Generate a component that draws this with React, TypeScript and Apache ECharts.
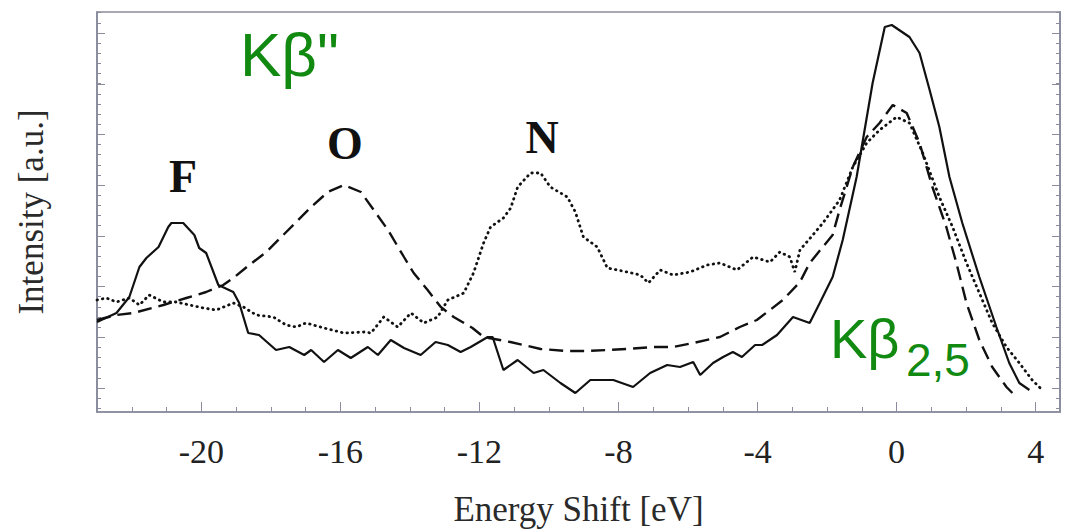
import React, { useEffect, useRef } from "react";
import * as echarts from "echarts";

// Energy shift [eV] vs intensity [a.u.] pairs
const fluorideCurve: number[][] = [
  [-23.0, 90], [-22.44, 99], [-22.07, 115], [-21.78, 145], [-21.58, 154], [-21.23, 165],
  [-20.95, 185], [-20.86, 189], [-20.52, 189], [-20.2, 177], [-20.06, 164], [-19.86, 159],
  [-19.51, 127], [-19.08, 120], [-18.91, 109], [-18.65, 79], [-18.34, 77], [-17.85, 62],
  [-17.47, 65], [-17.04, 57], [-16.84, 62], [-16.47, 50], [-16.07, 62], [-15.7, 54],
  [-15.21, 65], [-14.92, 57], [-14.55, 72], [-14.17, 64], [-13.69, 57], [-13.26, 70],
  [-12.91, 67], [-12.54, 60], [-12.25, 65], [-11.76, 75], [-11.62, 75], [-11.31, 42],
  [-10.9, 52], [-10.44, 39], [-10.16, 42], [-9.67, 29], [-9.24, 19], [-8.81, 32],
  [-8.15, 32], [-7.58, 25], [-7.09, 39], [-6.6, 47], [-6.23, 45], [-5.85, 50],
  [-5.65, 37], [-5.28, 49], [-4.99, 55], [-4.71, 60], [-4.45, 55], [-4.07, 67],
  [-3.87, 67], [-3.44, 77], [-2.98, 95], [-2.5, 89], [-2.21, 109], [-1.84, 135],
  [-1.55, 172], [-1.15, 235], [-0.69, 329], [-0.34, 385], [-0.14, 387], [0.37, 375],
  [0.66, 359], [0.95, 322], [1.23, 285], [1.52, 235], [1.89, 189], [2.38, 135],
  [2.87, 85], [3.24, 49], [3.53, 29], [3.82, 22],
];

const oxideCurve: number[][] = [
  [-23.0, 92], [-22.44, 97], [-21.95, 99], [-21.09, 107], [-20.43, 114], [-19.86, 120],
  [-19.37, 127], [-19.08, 134], [-18.62, 147], [-18.13, 160], [-17.27, 190], [-16.84, 205],
  [-16.36, 220], [-15.9, 227], [-15.41, 220], [-15.04, 202], [-14.63, 182], [-14.17, 155],
  [-13.89, 139], [-13.49, 122], [-13.11, 105], [-12.74, 95], [-12.2, 84], [-11.88, 75],
  [-11.11, 70], [-10.24, 63], [-9.47, 61], [-8.9, 61], [-8.32, 62], [-7.75, 63],
  [-7.0, 65], [-6.43, 65], [-5.85, 69], [-5.08, 75], [-4.51, 85], [-4.02, 92],
  [-3.27, 112], [-2.78, 130], [-2.5, 149], [-1.84, 177], [-1.64, 202], [-1.26, 245],
  [-0.86, 275], [-0.49, 289], [-0.11, 307], [0.29, 299], [0.66, 269], [1.03, 225],
  [1.43, 185], [1.72, 149], [2.01, 109], [2.38, 72], [2.75, 45], [3.16, 25], [3.33, 19],
];

const nitrideCurve: number[][] = [
  [-23.0, 112], [-22.73, 114], [-22.44, 110], [-22.07, 114], [-21.78, 107], [-21.5, 117],
  [-21.09, 110], [-20.72, 110], [-20.34, 107], [-19.94, 104], [-19.57, 102], [-19.08, 109],
  [-18.79, 105], [-18.42, 97], [-17.93, 95], [-17.56, 87], [-17.27, 85], [-16.99, 89],
  [-16.47, 84], [-15.9, 79], [-15.32, 80], [-15.12, 79], [-14.75, 95], [-14.35, 85],
  [-13.97, 99], [-13.6, 89], [-13.2, 95], [-12.91, 112], [-12.45, 119], [-12.17, 139],
  [-11.88, 169], [-11.68, 185], [-11.31, 194], [-11.1, 204], [-10.9, 225], [-10.53, 239],
  [-10.24, 239], [-9.96, 225], [-9.47, 215], [-9.24, 200], [-9.01, 175], [-8.61, 165],
  [-8.32, 144], [-7.75, 140], [-7.37, 137], [-7.14, 129], [-6.8, 142], [-6.43, 137],
  [-5.94, 140], [-5.45, 147], [-5.08, 149], [-4.59, 142], [-4.13, 155], [-3.64, 150],
  [-3.36, 160], [-3.07, 155], [-2.93, 140], [-2.78, 162], [-2.41, 177], [-2.12, 189],
  [-1.64, 212], [-1.26, 245], [-0.86, 269], [-0.49, 282], [0.0, 295], [0.37, 289],
  [0.75, 259], [1.23, 215], [1.61, 185], [2.01, 149], [2.38, 119], [2.75, 89],
  [3.16, 65], [3.53, 49], [3.9, 32], [4.19, 22],
];

const xTickLabels = [-20, -16, -12, -8, -4, 0, 4];
const xMinorTicks = [-23, -22, -21, -20, -19, -18, -17, -16, -15, -14, -13, -12, -11, -10, -9, -8, -7, -6, -5, -4, -3, -2, -1, 0, 1, 2, 3, 4];
const yMajorTicks = [24, 74.7, 125.4, 176, 226.8, 277.5, 328, 379];

const X_MIN = -23;
const X_MAX = 4.7;
const Y_MIN = 0;
const Y_MAX = 400;

export default function App() {
  const ref = useRef<HTMLDivElement>(null);

  useEffect(() => {
    if (!ref.current) return;
    const chart = echarts.init(ref.current, undefined, { renderer: "svg" });

    const yMinorTicks: number[] = [];
    const step = (yMajorTicks[yMajorTicks.length - 1] - yMajorTicks[0]) / (yMajorTicks.length - 1) / 5;
    for (let v = yMajorTicks[0] - step * 2; v < Y_MAX; v += step) {
      if (v > Y_MIN) yMinorTicks.push(v);
    }

    const frameColor = "#8a8c9c";
    const serif = "'Liberation Serif', 'Times New Roman', serif";
    const sans = "'Liberation Sans', Arial, sans-serif";
    const green = "#128a12";

    const yAxisBase = (position: "left" | "right", ticks: number[], len: number, withName: boolean) => ({
      type: "value",
      position,
      min: Y_MIN,
      max: Y_MAX,
      axisLine: { show: true, onZero: false, lineStyle: { color: frameColor, width: 1.5 } },
      axisTick: { show: true, inside: true, length: len, customValues: ticks, lineStyle: { color: frameColor, width: 1 } },
      axisLabel: { show: false },
      splitLine: { show: false },
      name: withName ? "Intensity [a.u.]" : "",
      nameLocation: "middle",
      nameGap: 48,
      nameTextStyle: { fontFamily: serif, fontSize: 35, color: "#2a2a2a" },
    });

    chart.setOption({
      animation: false,
      backgroundColor: "#ffffff",
      grid: {
        left: 97,
        right: 7,
        top: 12,
        bottom: 120,
        show: true,
        borderColor: frameColor,
        borderWidth: 1.5,
        containLabel: false,
      },
      xAxis: [
        {
          type: "value",
          min: X_MIN,
          max: X_MAX,
          position: "bottom",
          axisLine: { show: true, onZero: false, lineStyle: { color: frameColor, width: 1.5 } },
          axisTick: { show: true, inside: true, length: 5, customValues: xMinorTicks, lineStyle: { color: frameColor } },
          axisLabel: {
            show: true,
            customValues: xTickLabels,
            margin: 22,
            fontFamily: serif,
            fontSize: 34,
            color: "#222222",
          },
          splitLine: { show: false },
          name: "Energy Shift [eV]",
          nameLocation: "middle",
          nameGap: 80,
          nameTextStyle: { fontFamily: serif, fontSize: 35, color: "#2a2a2a" },
        },
        {
          type: "value",
          min: X_MIN,
          max: X_MAX,
          position: "bottom",
          axisLine: { show: false, onZero: false },
          axisTick: { show: true, inside: true, length: 10, customValues: xTickLabels, lineStyle: { color: frameColor } },
          axisLabel: { show: false },
          splitLine: { show: false },
        },
      ],
      yAxis: [
        yAxisBase("left", yMajorTicks, 8, true),
        yAxisBase("left", yMinorTicks, 4, false),
        yAxisBase("right", yMajorTicks, 8, false),
        yAxisBase("right", yMinorTicks, 4, false),
      ],
      series: [
        {
          name: "F",
          type: "line",
          data: fluorideCurve,
          showSymbol: false,
          smooth: false,
          lineStyle: { color: "#111111", width: 2.2, type: "solid" },
          z: 3,
        },
        {
          name: "O",
          type: "line",
          data: oxideCurve,
          showSymbol: false,
          smooth: false,
          lineStyle: { color: "#111111", width: 2.4, type: [14, 7] },
          z: 3,
        },
        {
          name: "N",
          type: "line",
          data: nitrideCurve,
          showSymbol: false,
          smooth: false,
          lineStyle: { color: "#111111", width: 2.8, type: [0.5, 5], cap: "round" },
          z: 3,
        },
      ],
      graphic: [
        {
          type: "text",
          x: 240,
          y: 23,
          style: { text: "Kβ\"", font: `62px ${sans}`, fill: green, align: "left", verticalAlign: "top" },
        },
        {
          type: "text",
          x: 830,
          y: 310,
          style: { text: "Kβ", font: `56px ${sans}`, fill: green, align: "left", verticalAlign: "top" },
        },
        {
          type: "text",
          x: 906,
          y: 337,
          style: { text: "2,5", font: `46px ${sans}`, fill: green, align: "left", verticalAlign: "top" },
        },
        {
          type: "text",
          x: 183,
          y: 153,
          style: { text: "F", font: `bold 46px ${serif}`, fill: "#111111", align: "center", verticalAlign: "top" },
        },
        {
          type: "text",
          x: 345,
          y: 120,
          style: { text: "O", font: `bold 46px ${serif}`, fill: "#111111", align: "center", verticalAlign: "top" },
        },
        {
          type: "text",
          x: 542,
          y: 114,
          style: { text: "N", font: `bold 46px ${serif}`, fill: "#111111", align: "center", verticalAlign: "top" },
        },
      ],
    });

    return () => chart.dispose();
  }, []);

  return (
    <div
      ref={ref}
      style={{ position: "absolute", left: 0, top: 0, width: 1067, height: 532 }}
    />
  );
}
